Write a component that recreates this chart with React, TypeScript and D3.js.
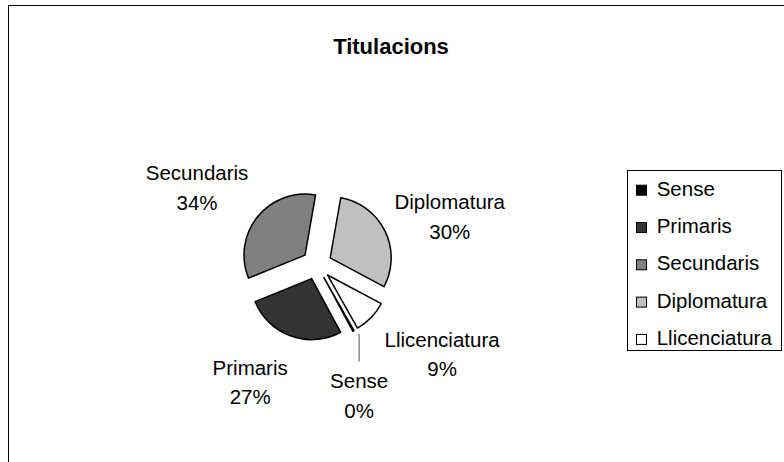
import React, { useEffect, useRef } from 'react'
import * as d3 from 'd3'

// data
const categories = ['Sense', 'Primaris', 'Secundaris', 'Diplomatura', 'Llicenciatura']
const counts = [1, 89, 113, 100, 30]
const fills = ['#000000', '#333333', '#808080', '#c0c0c0', '#ffffff']
const chartTitle = 'Titulacions'

// best-fit label nudges (px), like Excel moves them around
const labelNudge = [[-22.5, 20], [-18.5, -2], [2, 3], [-11, 8], [9, 1]]

const W = 784
const H = 462
const FONT = 'Arial, "Liberation Sans", sans-serif'
const FS = 20.5
const LINE_GAP = 29.5

export default function App() {
  const ref = useRef<SVGSVGElement>(null)

  useEffect(() => {
    const svg = d3.select(ref.current)
    svg.selectAll('*').remove()

    // chart frame, runs off the right and bottom edges
    svg.append('rect')
      .attr('x', 8.5).attr('y', 5.5)
      .attr('width', 820).attr('height', 500)
      .attr('fill', 'white').attr('stroke', 'black').attr('stroke-width', 1)

    svg.append('text')
      .attr('x', 391).attr('y', 54)
      .attr('text-anchor', 'middle')
      .attr('font-family', FONT).attr('font-size', 22).attr('font-weight', 'bold')
      .text(chartTitle)

    const cx = 316.7
    const cy = 264.5
    const r = 61
    const explode = 15
    const labelR = 105
    const total = d3.sum(counts)
    const start = 150.5 * Math.PI / 180

    const pie = d3.pie<number>().sort(null).startAngle(start).endAngle(start + 2 * Math.PI)
    const arcs = pie(counts)
    const arc = d3.arc<d3.PieArcDatum<number>>().innerRadius(0).outerRadius(r)
    const pct = d3.format('.0%')

    const g = svg.append('g').attr('transform', `translate(${cx},${cy})`)

    arcs.forEach((a, i) => {
      const mid = (a.startAngle + a.endAngle) / 2
      const dx = Math.sin(mid)
      const dy = -Math.cos(mid)

      g.append('path')
        .attr('d', arc(a) as string)
        .attr('transform', `translate(${dx * explode},${dy * explode})`)
        .attr('fill', fills[i])
        .attr('stroke', 'black')
        .attr('stroke-width', 1.5)
        .attr('stroke-linejoin', 'round')

      const lbl = g.append('text')
        .attr('font-family', FONT).attr('font-size', FS)
        .attr('text-anchor', 'middle').attr('fill', 'black')
      const t1 = lbl.append('tspan').attr('x', 0).attr('y', 0).text(categories[i])
      const t2 = lbl.append('tspan').attr('x', 0).attr('y', LINE_GAP).text(pct(a.value / total))
      const w = Math.max(
        (t1.node() as SVGTSpanElement).getComputedTextLength(),
        (t2.node() as SVGTSpanElement).getComputedTextLength()
      )
      const capH = FS * 0.716
      const h = capH + LINE_GAP
      const lx = labelR * dx + dx * w / 2 + labelNudge[i][0]
      const ly = labelR * dy + dy * h / 2
      const base = ly - h / 2 + capH + labelNudge[i][1]
      lbl.attr('transform', `translate(${lx},${base})`)

      // leader line for the tiny slice
      if (a.value / total < 0.01) {
        const tipY = dy * (explode + r) + 3
        g.append('line')
          .attr('x1', lx).attr('x2', lx)
          .attr('y1', tipY).attr('y2', base - capH - 12)
          .attr('stroke', '#555').attr('stroke-width', 1)
      }
    })

    // legend
    const lg = svg.append('g')
    lg.append('rect')
      .attr('x', 627.5).attr('y', 170.5)
      .attr('width', 154).attr('height', 180)
      .attr('fill', 'white').attr('stroke', 'black')
    categories.forEach((c, i) => {
      const by = 195.7 + i * 37.3
      lg.append('rect')
        .attr('x', 636.5).attr('y', by - 10.5)
        .attr('width', 10).attr('height', 10)
        .attr('fill', fills[i]).attr('stroke', 'black')
      lg.append('text')
        .attr('x', 656.7).attr('y', by)
        .attr('font-family', FONT).attr('font-size', FS)
        .text(c)
    })
  }, [])

  return (
    <svg ref={ref} width={W} height={H}
      style={{ position: 'absolute', left: 0, top: 0, background: 'white' }} />
  )
}
